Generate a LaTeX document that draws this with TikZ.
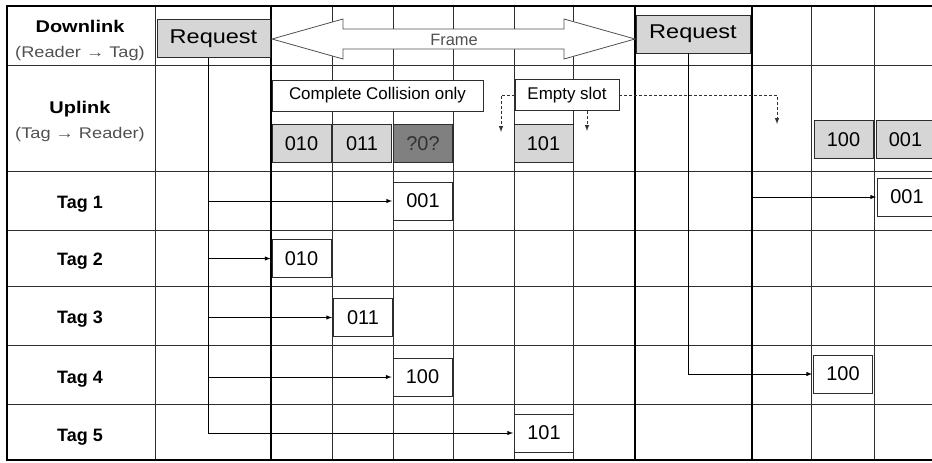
\documentclass[tikz,border=0pt]{standalone}
\usepackage{fontspec}
\setmainfont{Liberation Sans}
\newfontfamily\widesans[FakeStretch=1.18]{Liberation Sans}
\usepackage{tikz}
\usetikzlibrary{arrows,shapes}
\definecolor{boxgray}{RGB}{214,214,214}
\definecolor{colgray}{RGB}{128,128,128}
\definecolor{txtgray}{RGB}{80,80,80}
\definecolor{txtdark}{RGB}{50,50,50}
\definecolor{rulegray}{RGB}{45,45,45}

\begin{document}
\begin{tikzpicture}[>=latex,
  thinrule/.style={line width=0.9bp, draw=rulegray},
  thickrule/.style={line width=2.2bp, draw=black},
  head/.style={font=\widesans\bfseries\fontsize{17}{20}\selectfont},
  subhead/.style={font=\widesans\fontsize{15.5}{18}\selectfont, text=txtgray},
  taglabel/.style={font=\bfseries\fontsize{18}{21}\selectfont},
  reqbox/.style={draw=rulegray, fill=boxgray, line width=0.8bp, minimum width=113bp, minimum height=38bp, inner sep=0pt, font=\widesans\fontsize{20}{24}\selectfont},
  codebox/.style={draw=rulegray, line width=0.8bp, minimum width=59bp, minimum height=38bp, inner sep=0pt, font=\fontsize{20}{24}\selectfont},
  slotbox/.style={codebox, fill=boxgray},
  colbox/.style={codebox, fill=colgray, text=txtdark},
  tagbox/.style={codebox, fill=white},
  notebox/.style={draw=rulegray, fill=white, line width=0.8bp, minimum height=31bp, inner sep=0pt, font=\fontsize{17}{20}\selectfont},
  framearrow/.style={draw=txtgray, fill=white, line width=0.8bp},
  link/.style={->, line width=1bp, shorten >=1bp},
  hint/.style={->, line width=1bp, densely dashed, draw=txtdark}
]
\useasboundingbox (0bp,0bp) rectangle (932bp,-463bp);

% table rules
\foreach \y in {65,171,230,286,345,404}
  \draw [thinrule] (7bp,-\y bp) -- (932bp,-\y bp);
\foreach \x in {155,332,393,453,514,573,811,874}
  \draw [thinrule] (\x bp,-6bp) -- (\x bp,-460bp);
\foreach \x in {271,635,752}
  \draw [thickrule] (\x bp,-6bp) -- (\x bp,-460bp);
\draw [thickrule] (932bp,-6bp) -- (7bp,-6bp) -- (7bp,-460bp) -- (932bp,-460bp);

% row headings
\node (dl) at (80bp,-26bp) [head] {Downlink};
\node (dlsub) at (80bp,-54bp) [subhead] {(Reader → Tag)};
\node (ul) at (80bp,-109bp) [head] {Uplink};
\node (ulsub) at (80bp,-135bp) [subhead] {(Tag → Reader)};
\foreach \n/\y in {1/204,2/261,3/319,4/379,5/437}
  \node (tag\n) at (80bp,-\y bp) [taglabel] {Tag \n};

% downlink
\node (req1) at (213.5bp,-38.5bp) [reqbox] {Request};
\node (req2) at (693bp,-34bp) [reqbox, minimum width=114bp] {Request};
\draw [framearrow] (272bp,-39bp) -- (343bp,-19bp) -- (343bp,-29bp) -- (564bp,-29bp)
  -- (564bp,-19bp) -- (635bp,-39bp) -- (564bp,-59bp) -- (564bp,-49bp)
  -- (343bp,-49bp) -- (343bp,-59bp) -- cycle;
\node (frame) at (454bp,-40bp) [font=\fontsize{16.5}{19}\selectfont, text=txtgray] {Frame};

% uplink slots
\node (s1) at (301.5bp,-143.5bp) [slotbox] {010};
\node (s2) at (362bp,-143.5bp) [slotbox] {011};
\node (s3) at (423bp,-143.5bp) [colbox] {?0?};
\node (s5) at (543.5bp,-143.5bp) [slotbox] {101};
\node (s8) at (843.5bp,-139.5bp) [slotbox] {100};
\node (s9) at (905.5bp,-139.5bp) [slotbox] {001};

\node (coll) at (377.5bp,-95.5bp) [notebox, minimum width=211bp] {Complete Collision only};
\node (empty) at (567bp,-95bp) [notebox, minimum width=104bp] {Empty slot};
\coordinate (e4) at (501bp,-132bp);
\coordinate (e6) at (587bp,-131bp);
\coordinate (e7) at (777bp,-124bp);
\draw [hint] (empty.west) -| (e4);
\draw [hint] (empty.south -| e6) -- (e6);
\draw [hint] (empty.east) -| (e7);

% tag replies
\node (t1) at (423bp,-201bp) [tagbox] {001};
\node (t2) at (301.5bp,-258.5bp) [tagbox] {010};
\node (t3) at (363bp,-317.5bp) [tagbox] {011};
\node (t4) at (422.5bp,-377bp) [tagbox] {100};
\node (t5) at (544bp,-433bp) [tagbox] {101};
\node (r4) at (843bp,-374bp) [tagbox] {100};
\node (r1) at (907bp,-197bp) [tagbox] {001};

\coordinate (bus1) at (208bp,-57.5bp);
\draw [link] (bus1) |- (t5);
\foreach \t in {t1,t2,t3,t4}
  \draw [link] (bus1 |- \t.west) -- (\t.west);
\coordinate (bus2) at (688bp,-53bp);
\draw [link] (bus2) |- (r4);
\coordinate (f2) at (752bp,-197bp);
\draw [link] (f2) -- (r1);
\end{tikzpicture}
\end{document}
